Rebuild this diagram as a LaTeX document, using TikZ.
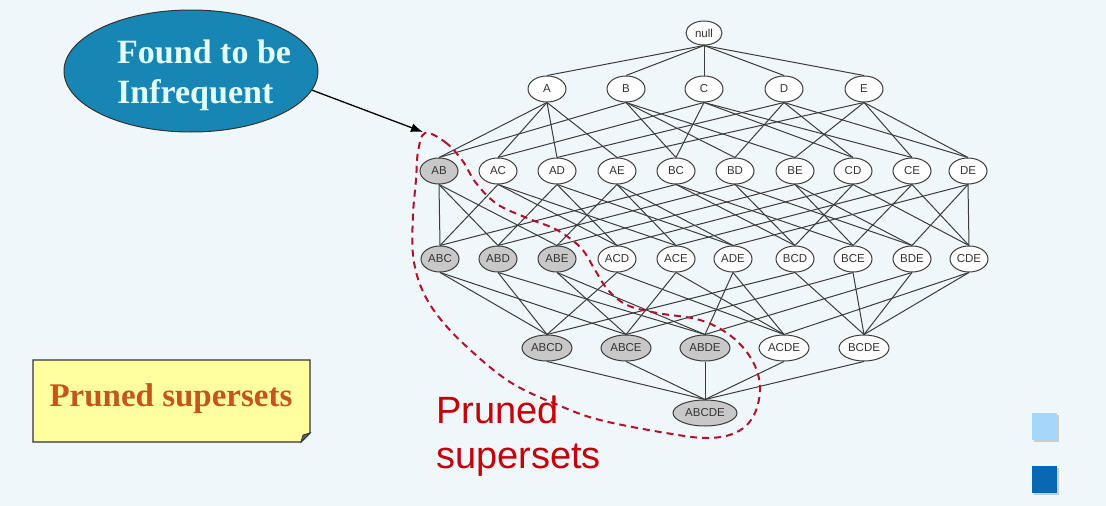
\documentclass[tikz,border=0pt]{standalone}
\usepackage{fontspec}
\setmainfont{Liberation Serif}
\newfontfamily\arialf{Liberation Sans}
\usetikzlibrary{shapes.geometric,arrows.meta,shadows}
\definecolor{bgc}{RGB}{240,247,250}
\definecolor{calloutc}{RGB}{24,134,180}
\definecolor{callouttxt}{RGB}{225,255,255}
\definecolor{notec}{RGB}{255,255,160}
\definecolor{notetxt}{RGB}{196,86,28}
\definecolor{loopc}{RGB}{180,16,40}
\definecolor{redtxt}{RGB}{196,0,10}
\definecolor{edgec}{RGB}{60,60,60}
\definecolor{prunedc}{RGB}{200,200,200}
\definecolor{lightsq}{RGB}{166,215,250}
\definecolor{darksq}{RGB}{10,104,178}
\tikzset{
  item/.style={ellipse,draw=edgec,line width=1pt,fill=white,minimum width=38pt,minimum height=26pt,inner sep=0pt,font=\arialf\fontsize{11.5}{12}\selectfont,text=black!80},
  pruned/.style={item,fill=prunedc},
  wide/.style={minimum width=50pt},
  wider/.style={minimum width=64pt},
  lat/.style={draw=edgec,line width=1pt},
  calltext/.style={anchor=base west,inner sep=0pt,text=callouttxt,font=\fontsize{34}{40}\selectfont\bfseries},
  redlabel/.style={anchor=base west,inner sep=0pt,text=redtxt,font=\arialf\fontsize{38}{45}\selectfont},
}
\begin{document}
\begin{tikzpicture}[x=1pt,y=-1pt]
\fill[bgc] (0,0) rectangle (1106,506);
\useasboundingbox (0,0) rectangle (1106,506);
% lattice nodes
\node[item,minimum width=36pt,minimum height=24pt] (null) at (704,33) {null};
\foreach \n/\x in {A/547,B/626,C/704,D/784,E/864}
  \node[item] (\n) at (\x,89) {\n};
\node[pruned] (AB) at (439,171) {AB};
\foreach \n/\x in {AC/498,AD/557,AE/617,BC/676,BD/735,BE/795,CD/853,CE/912,DE/968}
  \node[item] (\n) at (\x,171) {\n};
\foreach \n/\x in {ABC/440,ABD/498,ABE/557}
  \node[pruned] (\n) at (\x,259) {\n};
\foreach \n/\x in {ACD/617,ACE/676,ADE/733,BCD/795,BCE/853,BDE/912,CDE/969}
  \node[item] (\n) at (\x,259) {\n};
\foreach \n/\x in {ABCD/547,ABCE/626,ABDE/705}
  \node[pruned,wide] (\n) at (\x,348) {\n};
\foreach \n/\x in {ACDE/784,BCDE/864}
  \node[item,wide] (\n) at (\x,348) {\n};
\node[pruned,wider] (ABCDE) at (705,413) {ABCDE};
% lattice edges
\foreach \c in {A,B,C,D,E} \draw[lat] (null.south) -- (\c.north);
\foreach \c/\ps in {AB/{A,B},AC/{A,C},AD/{A,D},AE/{A,E},BC/{B,C},BD/{B,D},BE/{B,E},CD/{C,D},CE/{C,E},DE/{D,E},
  ABC/{AB,AC,BC},ABD/{AB,AD,BD},ABE/{AB,AE,BE},ACD/{AC,AD,CD},ACE/{AC,AE,CE},ADE/{AD,AE,DE},BCD/{BC,BD,CD},BCE/{BC,BE,CE},BDE/{BD,BE,DE},CDE/{CD,CE,DE},
  ABCD/{ABC,ABD,ACD,BCD},ABCE/{ABC,ABE,ACE,BCE},ABDE/{ABD,ABE,ADE,BDE},ACDE/{ACD,ACE,ADE,CDE},BCDE/{BCD,BCE,BDE,CDE},
  ABCDE/{ABCD,ABCE,ABDE,ACDE,BCDE}}
  {\foreach \p in \ps \draw[lat] (\p.south) -- (\c.north);}
% callout
\node[ellipse,draw=black!80,line width=1pt,fill=calloutc,minimum width=254pt,minimum height=122pt,inner sep=0pt] (callout) at (191,71) {};
\node[calltext] (calltext1) at (117,63) {Found to be};
\node[calltext] (calltext2) at (117,103) {Infrequent};
\coordinate (tip) at (423,132);
\draw[line width=1.3pt,-{Latex[length=12pt,width=9pt]}] (callout.-9) -- (tip);
% dashed loop
\draw[loopc,line width=2pt,dash pattern=on 7pt off 5pt] plot[smooth cycle,tension=0.6] coordinates {
 (425,133) (445,142) (462,160) (476,183) (497,204) (527,218) (557,230) (581,248) (595,270) (608,290) (627,305) (657,313)
 (700,320) (731,336) (752,360) (760,387) (754,415) (737,432) (708,438) (666,433) (600,420) (558,405) (510,382) (467,347)
 (438,316) (421,287) (413,255) (413,215) (416,180) (418,152)};
% red label
\node[redlabel] (redl1) at (436,423) {Pruned};
\node[redlabel] (redl2) at (436,468) {supersets};
% yellow note
\fill[notec,draw=black!80,line width=1.2pt] (33,360) -- (310,360) -- (310,433) -- (301,442) -- (33,442) -- cycle;
\fill[black!60,draw=black!80,line width=0.8pt] (301,442) -- (303,435) -- (310,433) -- cycle;
\node[text=notetxt,font=\fontsize{33}{40}\selectfont\bfseries] (note) at (171,399) {Pruned supersets};
% squares
\node[draw=none,fill=lightsq,minimum width=25pt,minimum height=27pt,inner sep=0pt,drop shadow={shadow xshift=2pt,shadow yshift=-2pt,opacity=0.35}] (sq1) at (1044,426) {};
\node[draw=none,fill=darksq,minimum width=25pt,minimum height=27pt,inner sep=0pt,drop shadow={shadow xshift=2pt,shadow yshift=-2pt,opacity=0.35}] (sq2) at (1044,479) {};
\end{tikzpicture}
\end{document}
